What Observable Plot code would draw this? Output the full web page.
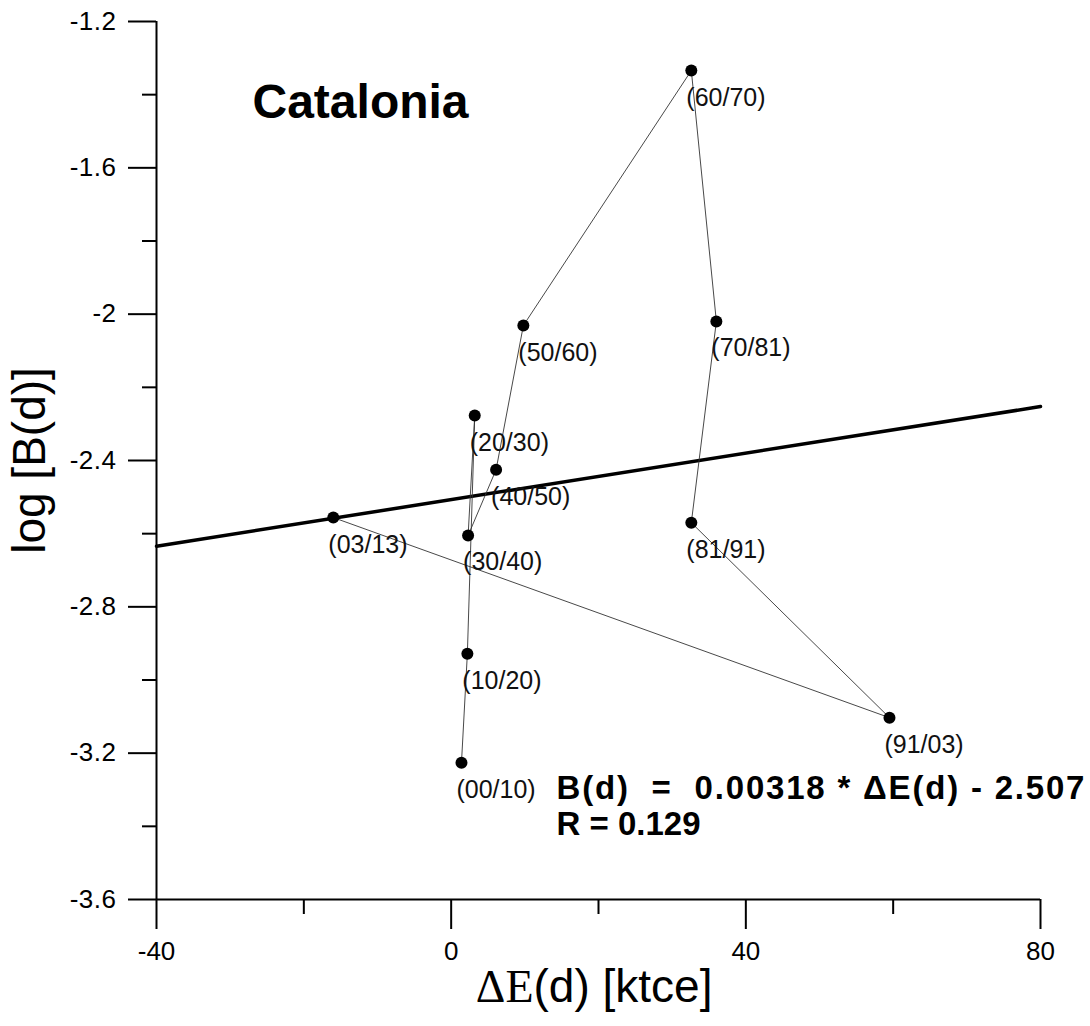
<!DOCTYPE html>
<html>
<head>
<meta charset="utf-8">
<script src="https://cdn.jsdelivr.net/npm/d3@7"></script>
<script src="https://cdn.jsdelivr.net/npm/@observablehq/plot@0.6"></script>
<style>
  html, body { margin: 0; padding: 0; background: #fff; }
  svg text { white-space: pre; }
  g[aria-label="y-axis tick label"] text { letter-spacing: 0.5px; }
</style>
</head>
<body>
<div id="chart"></div>
<script>
// Data
const periods = ["00/10", "10/20", "20/30", "30/40", "40/50", "50/60", "60/70", "70/81", "81/91", "91/03", "03/13"];
const deltaE  = [1.4, 2.2, 3.2, 2.3, 6.1, 9.8, 32.6, 36.0, 32.6, 59.5, -16.0];
const logB    = [-3.226, -2.928, -2.277, -2.605, -2.425, -2.031, -1.334, -2.020, -2.570, -3.103, -2.556];

const slope = 0.00318;
const intercept = -2.507;
const rValue = 0.129;

const xDomain = [-40, 80];
const yDomain = [-3.6, -1.2];
const xMajorTicks = [-40, 0, 40, 80];
const xMinorTicks = [-20, 20, 60];
const yMajorTicks = [-1.2, -1.6, -2, -2.4, -2.8, -3.2, -3.6];
const yMajorLabels = ["-1.2", "-1.6", "-2", "-2.4", "-2.8", "-3.2", "-3.6"];
const yMinorTicks = [-1.4, -1.8, -2.2, -2.6, -3.0, -3.4];

const titleText = "Catalonia";
const eqText = "B(d)  =  0.00318 * \u0394E(d) - 2.507";
const rText = "R = 0.129";

const points = periods.map((p, i) => ({period: p, x: deltaE[i], y: logB[i]}));
const fitLine = xDomain.map(x => ({x, y: slope * x + intercept}));

const sans = "Arial, 'Liberation Sans', sans-serif";
const serif = "'Times New Roman', 'Liberation Serif', serif";
const nb = s => s.replace(/ /g, "\u00A0");

const chart = Plot.plot({
  width: 1090,
  height: 1026,
  marginLeft: 156,
  marginRight: 50,
  marginTop: 21,
  marginBottom: 127,
  style: {fontFamily: sans, color: "#000", background: "#fff"},
  x: {domain: xDomain},
  y: {domain: yDomain},
  marks: [
    // minor ticks
    Plot.axisX({ticks: xMinorTicks, tickSize: 15, tickFormat: () => "", strokeWidth: 2, label: null}),
    Plot.axisY({ticks: yMinorTicks, tickSize: 14, tickFormat: () => "", strokeWidth: 2, label: null}),
    // major ticks
    Plot.axisX({ticks: xMajorTicks, tickSize: 30, tickPadding: 12, fontSize: 26, strokeWidth: 2, label: null, tickFormat: d => String(d)}),
    Plot.axisY({ticks: yMajorTicks, tickSize: 28, tickPadding: 12, fontSize: 26, strokeWidth: 2, label: null,
      tickFormat: d => yMajorLabels[yMajorTicks.indexOf(d)]}),
    // axis lines
    Plot.ruleX([xDomain[0]], {stroke: "#000", strokeWidth: 2}),
    Plot.ruleY([yDomain[0]], {stroke: "#000", strokeWidth: 2}),
    // regression line
    Plot.line(fitLine, {x: "x", y: "y", stroke: "#000", strokeWidth: 3.5}),
    // trajectory
    Plot.line(points, {x: "x", y: "y", stroke: "#333", strokeWidth: 0.9}),
    Plot.dot(points, {x: "x", y: "y", r: 6, fill: "#000", stroke: "none"}),
    Plot.text(points, {x: "x", y: "y", text: d => "(" + d.period + ")", textAnchor: "start", dx: -5, dy: 27, fontSize: 25, fill: "#111"}),
    // title
    Plot.text([titleText], {frameAnchor: "top-left", text: d => d, textAnchor: "start", dx: 96, dy: 62, fontSize: 48, fontWeight: "bold"}),
    // equation
    Plot.text([eqText], {frameAnchor: "top-left", text: d => nb(d), textAnchor: "start", dx: 400, dy: 754, fontSize: 33, fontWeight: "bold"}),
    Plot.text([rText], {frameAnchor: "top-left", text: d => nb(d), textAnchor: "start", dx: 400, dy: 790, fontSize: 33, fontWeight: "bold"}),
    // axis labels
    Plot.text(["log [B(d)]"], {frameAnchor: "left", text: d => nb(d), rotate: -90, textAnchor: "middle", dx: -126, dy: 0, fontSize: 46}),
    Plot.text(["\u0394E"], {frameAnchor: "bottom", text: d => d, textAnchor: "end", dx: -65, dy: 102, fontSize: 46, fontFamily: serif}),
    Plot.text(["(d) [ktce]"], {frameAnchor: "bottom", text: d => nb(d), textAnchor: "start", dx: -65, dy: 102, fontSize: 46})
  ]
});
// widen the regression equation text slightly, as in the reference
d3.select(chart).selectAll("text")
  .filter(function() { return this.textContent === nb(eqText); })
  .style("letter-spacing", "1.8px");
document.getElementById("chart").appendChild(chart);
</script>
</body>
</html>
